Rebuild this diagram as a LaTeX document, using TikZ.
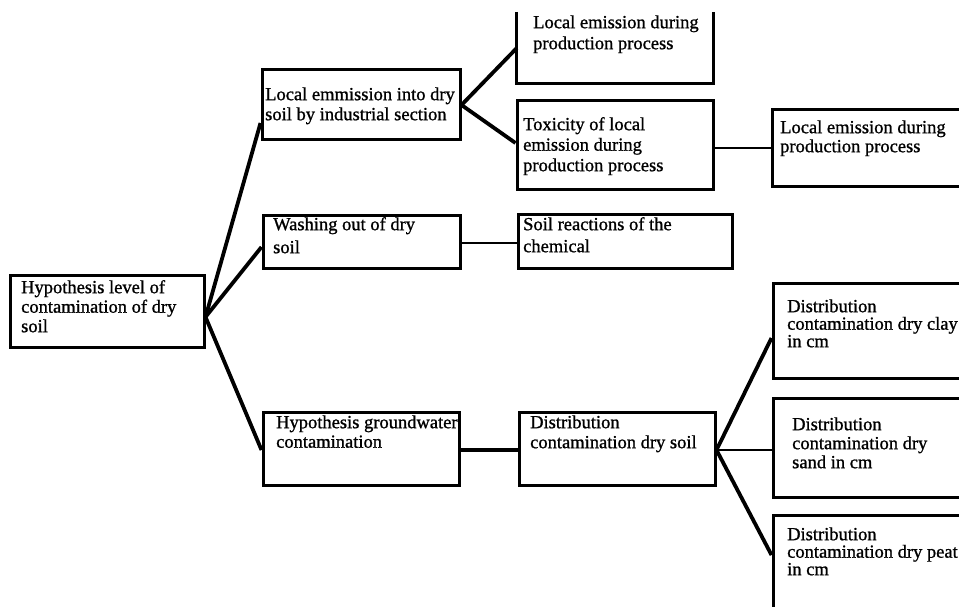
\documentclass[tikz,border=0pt]{standalone}
\usepackage{fontspec}
\setmainfont[FakeBold=1]{Liberation Serif}
\begin{document}
\begin{tikzpicture}[x=1pt,y=-1pt,
  box/.style={draw, line width=3pt, inner sep=0pt},
  openbox/.style={draw=none, inner sep=0pt},
  boxline/.style={line width=3pt},
  conn/.style={line width=3.8pt},
  thinconn/.style={line width=2.6pt},
  txt/.style={anchor=north west, inner sep=0pt, align=left},
  ls/.style={font=\fontsize{18.5}{#1}\selectfont}
]
\useasboundingbox (0,0) rectangle (959,606);
\clip (0,0) rectangle (959,606);

% boxes
\node[box, minimum width=194pt, minimum height=72pt] (A)  at (107,311.5) {};
\node[box, minimum width=198pt, minimum height=70pt] (B1) at (361,104) {};
\node[box, minimum width=197pt, minimum height=53pt] (B2) at (361.5,241.5) {};
\node[box, minimum width=196pt, minimum height=73pt] (B3) at (361,448.5) {};
\node[openbox, minimum width=196pt, minimum height=71pt] (C1) at (615,47.5) {};
\draw[boxline] (C1.north west) -- (C1.south west) -- (C1.south east) -- (C1.north east);
\node[box, minimum width=196pt, minimum height=89pt] (C2) at (615,144.5) {};
\node[box, minimum width=214pt, minimum height=54pt] (C3) at (625,241) {};
\node[box, minimum width=196pt, minimum height=73pt] (C4) at (617,448.5) {};
\node[box, minimum width=208pt, minimum height=77pt] (D1) at (876,147.5) {};
\node[box, minimum width=207pt, minimum height=95pt] (E1) at (876.5,330.5) {};
\node[box, minimum width=207pt, minimum height=99pt] (E2) at (876.5,447.5) {};
\node[box, minimum width=207pt, minimum height=105pt] (E3) at (876.5,567.5) {};

% texts
\node[txt, ls=19.5] (tA)  at (21,279)  {\rule{0pt}{14pt}Hypothesis level of\\contamination of dry\\soil};
\node[txt, ls=20]   (tB1) at (265,86)  {\rule{0pt}{14pt}Local emmission into dry\\soil by industrial section};
\node[txt, ls=21]   (tC1) at (533,14)  {\rule{0pt}{14pt}Local emission during\\production process};
\node[txt, ls=20.5] (tC2) at (523,116) {\rule{0pt}{14pt}Toxicity of local\\emission during\\production process};
\node[txt, ls=19]   (tD1) at (780,119) {\rule{0pt}{14pt}Local emission during\\production process};
\node[txt, ls=23]   (tB2) at (273,216) {\rule{0pt}{14pt}Washing out of dry\\soil};
\node[txt, ls=22]   (tC3) at (523,216) {\rule{0pt}{14pt}Soil reactions of the\\chemical};
\node[txt, ls=19.5] (tB3) at (276,414) {\rule{0pt}{14pt}Hypothesis groundwater\\contamination};
\node[txt, ls=20]   (tC4) at (530,414) {\rule{0pt}{14pt}Distribution\\contamination dry soil};
\node[txt, ls=17.5] (tE1) at (787,298) {\rule{0pt}{14pt}Distribution\\contamination dry clay\\in cm};
\node[txt, ls=19]   (tE2) at (792,416) {\rule{0pt}{14pt}Distribution\\contamination dry\\sand in cm};
\node[txt, ls=17.5] (tE3) at (787,526) {\rule{0pt}{14pt}Distribution\\contamination dry peat\\in cm};

% connectors
\draw[conn] ([yshift=-5.5pt]A.east) -- ([yshift=-19pt]B1.west);
\draw[conn] ([yshift=-5.5pt]A.east) -- ([yshift=-5.5pt]B2.west);
\draw[conn] ([yshift=-5.5pt]A.east) -- ([yshift=-1.5pt]B3.west);
\draw[conn] ([yshift=-1pt]B1.east) -- ([yshift=-0.5pt]C1.west);
\draw[conn] ([yshift=-1pt]B1.east) -- ([yshift=1.5pt]C2.west);
\draw[thinconn] ([yshift=-1.5pt]B2.east) -- ([yshift=-2pt]C3.west);
\draw[thinconn] ([yshift=-3.5pt]C2.east) -- ([yshift=-0.5pt]D1.west);
\draw[conn] ([yshift=-1.5pt]B3.east) -- ([yshift=-1.5pt]C4.west);
\draw[conn] ([yshift=-1.5pt]C4.east) -- ([yshift=-7.5pt]E1.west);
\draw[thinconn] ([yshift=-1.5pt]C4.east) -- ([yshift=-2.5pt]E2.west);
\draw[conn] ([yshift=-1.5pt]C4.east) -- ([yshift=12.5pt]E3.west);
\end{tikzpicture}
\end{document}
